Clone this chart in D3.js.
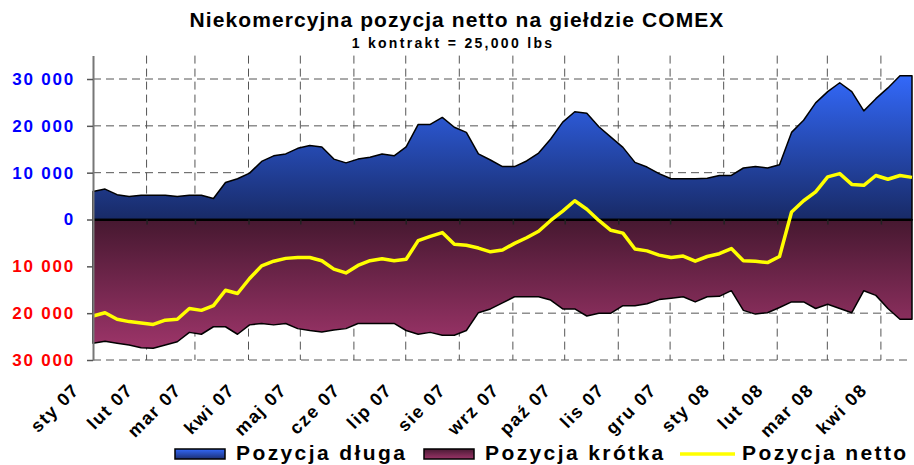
<!DOCTYPE html>
<html>
<head>
<meta charset="utf-8">
<script src="https://cdn.jsdelivr.net/npm/d3@7"></script>
<style>
  body { margin: 0; background: #fff; }
  svg { display: block; font-family: "Liberation Sans", Arial, sans-serif; }
</style>
</head>
<body>
<svg id="chart" width="914" height="465"></svg>
<script>
// etykiety miesięcy na osi X
const monthLabels = ["sty 07", "lut 07", "mar 07", "kwi 07", "maj 07", "cze 07", "lip 07", "sie 07",
  "wrz 07", "paź 07", "lis 07", "gru 07", "sty 08", "lut 08", "mar 08", "kwi 08"];

// tygodniowe dane (kontrakty)
const longPos = [6000, 6500, 5300, 4900, 5200, 5200, 5200, 4900, 5200, 5200, 4500, 7900, 8700, 9900,
  12400, 13600, 14000, 15200, 15800, 15500, 12900, 12100, 12900, 13300, 14000, 13600, 15500, 20300,
  20300, 21800, 19700, 18600, 14000, 12700, 11300, 11300, 12500, 14200, 17200, 20800, 23000, 22700,
  19800, 17600, 15400, 12200, 11200, 9800, 8700, 8700, 8700, 8800, 9400, 9400, 11000, 11300, 11000,
  11700, 18600, 21200, 24900, 27300, 29200, 27300, 23200, 25800, 28100, 30700, 30700];

const shortPos = [26400, 26000, 26400, 26800, 27400, 27500, 26800, 26100, 24100, 24500, 22900, 22900,
  24500, 22500, 22200, 22500, 22200, 23300, 23700, 24000, 23600, 23300, 22200, 22200, 22200, 22200,
  23700, 24500, 24100, 24700, 24700, 23700, 19900, 19100, 17800, 16500, 16500, 16500, 17200, 19100,
  19100, 20600, 20000, 20000, 18400, 18400, 18000, 17100, 16800, 16500, 17600, 16500, 16400, 15200,
  19400, 20200, 19900, 18800, 17600, 17600, 19000, 18100, 19000, 19900, 15200, 16200, 19000, 21300,
  21300];

const netPos = [-20600, -19900, -21300, -21800, -22100, -22400, -21500, -21300, -19000, -19400, -18400,
  -15100, -15800, -12600, -9900, -8900, -8300, -8100, -8100, -8800, -10600, -11400, -9800, -8800, -8400,
  -8800, -8500, -4500, -3600, -2800, -5300, -5500, -6100, -6900, -6500, -5100, -3900, -2500, -200, 1800,
  4000, 2200, -200, -2300, -2900, -6300, -6700, -7600, -8100, -7800, -8900, -7900, -7300, -6200, -8800,
  -8900, -9200, -7900, 1600, 4000, 5900, 9100, 9800, 7500, 7300, 9400, 8600, 9400, 9000];

const yTicks = [-30000, -20000, -10000, 0, 10000, 20000, 30000];

const legendItems = [
  { name: "Pozycja długa", kind: "long" },
  { name: "Pozycja krótka", kind: "short" },
  { name: "Pozycja netto", kind: "net" }
];

// wymiary obszaru wykresu
const plotLeft = 93, plotRight = 912, plotTop = 55.6, plotBottom = 360;

const svg = d3.select("#chart");

// punkty tygodniowe rozłożone równo, a siatka miesięcy wg dat
const x = d3.scaleLinear().domain([0, longPos.length - 1]).range([plotLeft, plotRight]);
const xTime = d3.scaleTime()
  .domain([new Date(2007, 0, 1), new Date(2008, 3, 19)])
  .range([plotLeft, plotRight]);
const y = d3.scaleLinear().domain([-30000, 35000]).range([plotBottom, plotTop]);

const monthDates = d3.timeMonth.range(new Date(2007, 0, 1), new Date(2008, 4, 1));

// gradienty dla obu pól
const defs = svg.append("defs");
function addGradient(id, y1, y2, c1, c2) {
  const g = defs.append("linearGradient")
    .attr("id", id)
    .attr("gradientUnits", "userSpaceOnUse")
    .attr("x1", 0).attr("x2", 0)
    .attr("y1", y1).attr("y2", y2);
  g.append("stop").attr("offset", "0%").attr("stop-color", c1);
  g.append("stop").attr("offset", "100%").attr("stop-color", c2);
}
addGradient("gradLong", y(31000), y(0), "#3369fb", "#182a66");
addGradient("gradShort", y(0), y(-27000), "#461830", "#9b3468");
addGradient("gradLongLeg", 449, 459, "#3369fb", "#1c2f72");
addGradient("gradShortLeg", 449, 459, "#4a1a34", "#9b3468");

// tytuł
svg.append("text")
  .attr("x", 457).attr("y", 27)
  .attr("text-anchor", "middle")
  .attr("font-size", 21).attr("font-weight", "bold")
  .attr("letter-spacing", 1.1)
  .text("Niekomercyjna pozycja netto na giełdzie COMEX");

svg.append("text")
  .attr("x", 453).attr("y", 48)
  .attr("text-anchor", "middle")
  .attr("font-size", 14).attr("font-weight", "bold")
  .attr("letter-spacing", 2.3)
  .text("1 kontrakt = 25,000 lbs");

// siatka przerywana
const grid = svg.append("g").attr("stroke", "#555").attr("stroke-dasharray", "8,5");

grid.selectAll(".hgrid")
  .data(yTicks.filter(d => d !== 0))
  .enter()
  .append("line")
  .attr("x1", plotLeft).attr("x2", plotRight)
  .attr("y1", d => y(d)).attr("y2", d => y(d));

grid.selectAll(".vgrid")
  .data(monthDates.slice(1))
  .enter()
  .append("line")
  .attr("x1", d => xTime(d)).attr("x2", d => xTime(d))
  .attr("y1", plotTop).attr("y2", plotBottom);

// pole pozycji długiej
const areaLong = d3.area()
  .x((d, i) => x(i))
  .y0(y(0))
  .y1(d => y(d));

svg.append("path")
  .datum(longPos)
  .attr("d", areaLong)
  .attr("fill", "url(#gradLong)")
  .attr("stroke", "#000")
  .attr("stroke-width", 1.5)
  .attr("stroke-linejoin", "round");

// pole pozycji krótkiej (w dół)
const areaShort = d3.area()
  .x((d, i) => x(i))
  .y0(y(0))
  .y1(d => y(-d));

svg.append("path")
  .datum(shortPos)
  .attr("d", areaShort)
  .attr("fill", "url(#gradShort)")
  .attr("stroke", "#000")
  .attr("stroke-width", 1.5)
  .attr("stroke-linejoin", "round");

// oś X na poziomie zera
const xAxis = svg.append("g")
  .attr("transform", `translate(0,${y(0)})`)
  .call(d3.axisBottom(xTime).tickValues(monthDates).tickSize(5).tickSizeOuter(0).tickFormat((d, i) => monthLabels[i]));

xAxis.select(".domain").attr("stroke", "#000").attr("stroke-width", 2);
xAxis.selectAll(".tick line").attr("stroke", "#222").attr("stroke-width", 1.5);
xAxis.selectAll(".tick text")
  .attr("x", null).attr("y", null).attr("dy", null)
  .attr("text-anchor", "end")
  .attr("transform", `translate(-13,${391 - y(0)}) rotate(-45)`)
  .attr("fill", "#000")
  .attr("font-family", "Liberation Sans, Arial, sans-serif")
  .attr("font-size", 18)
  .attr("font-weight", "bold")
  .attr("letter-spacing", 1.5);

// linia pozycji netto
const lineNet = d3.line()
  .x((d, i) => x(i))
  .y(d => y(d));

svg.append("path")
  .datum(netPos)
  .attr("d", lineNet)
  .attr("fill", "none")
  .attr("stroke", "#ffff00")
  .attr("stroke-width", 3.5)
  .attr("stroke-linejoin", "round");

// oś Y
const fmt = d3.formatLocale({ decimal: ",", thousands: " ", grouping: [3], currency: ["", ""] }).format(",");

const yAxis = svg.append("g")
  .attr("transform", `translate(${plotLeft},0)`)
  .call(d3.axisLeft(y).tickValues(yTicks).tickSize(6).tickSizeOuter(0).tickPadding(12)
    .tickFormat(d => fmt(Math.abs(d))));

yAxis.select(".domain").attr("stroke", "#777").attr("stroke-width", 2);
yAxis.selectAll(".tick line").attr("stroke", "#555").attr("stroke-width", 1.5);
yAxis.selectAll(".tick text")
  .attr("fill", d => d < 0 ? "#ff0000" : "#0000ff")
  .attr("font-family", "Liberation Sans, Arial, sans-serif")
  .attr("font-size", 17)
  .attr("font-weight", "bold")
  .attr("letter-spacing", 1.8);

// legenda
const legendX = [175, 424, 680];
const textX = [236, 485, 742];
const legend = svg.append("g");

legendItems.forEach((item, i) => {
  if (item.kind === "net") {
    legend.append("line")
      .attr("x1", legendX[i]).attr("x2", legendX[i] + 55)
      .attr("y1", 454).attr("y2", 454)
      .attr("stroke", "#ffff00")
      .attr("stroke-width", 3.5);
  } else {
    legend.append("rect")
      .attr("x", legendX[i]).attr("y", 449)
      .attr("width", 50).attr("height", 10)
      .attr("fill", item.kind === "long" ? "url(#gradLongLeg)" : "url(#gradShortLeg)")
      .attr("stroke", "#000")
      .attr("stroke-width", 1.5);
  }
  legend.append("text")
    .attr("x", textX[i]).attr("y", 460)
    .attr("font-size", 21)
    .attr("font-weight", "bold")
    .attr("letter-spacing", 2.4)
    .text(item.name);
});
</script>
</body>
</html>
